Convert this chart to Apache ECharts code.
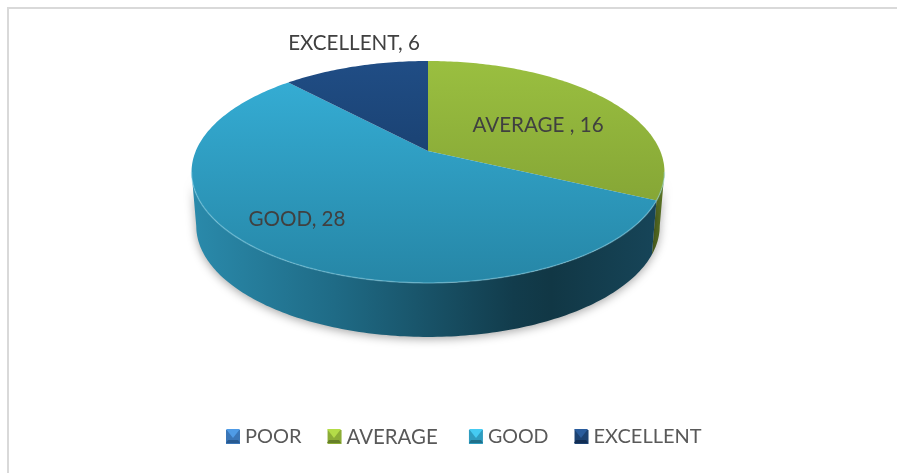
<!DOCTYPE html>
<html>
<head>
<meta charset="utf-8">
<script src="https://cdn.jsdelivr.net/npm/echarts@6/dist/echarts.min.js"></script>
<style>
html,body{margin:0;padding:0;background:#fff}
#main{width:897px;height:473px}
</style>
</head>
<body>
<div id="main"></div>
<script>
var categories = ["POOR", "AVERAGE ", "GOOD", "EXCELLENT"];
var values = [0, 16, 28, 6];

// colours per slice: top face gradient
var topColors = [
	["#3f7fc4", "#2e639b"],
	["#9abf40", "#7a9830"],
	["#36b0d8", "#2686a6"],
	["#204d85", "#12335a"]
];
// legend key: top bevel, side, bottom bevel
var keyColors = [
	["#4f9be6", "#3a76b8", "#285a90"],
	["#b4dc48", "#8cad36", "#667f28"],
	["#45cbf2", "#2f9dc0", "#20708a"],
	["#2a5c9c", "#1c4272", "#122e54"]
];
var keyX = [226, 327, 469, 574];
var keyY = 429, keySize = 14;
var legendFont = [20, 20.4, 19.6, 20];
var labelPos = [null, [538, 125], [297, 219], [354, 43]];

// perspective of the disc, fitted from the picture
var cx = 428, cy = 151, ax = 232.2, by = 107, persp = 0.189;
var depth = 54, baseShrink = 0.98;
var total = values.reduce(function(a, b){ return a + b; }, 0);
var frontFrom = Math.acos(-persp), frontTo = 2 * Math.PI - frontFrom;

var rimPoint = function(t){
	var u = Math.sin(t), v = Math.cos(t), w = 1 + persp * v;
	return [cx + ax * u / w, cy - by * v / w];
};
var basePoint = function(t){
	var p = rimPoint(t);
	return [cx + (p[0] - cx) * baseShrink, p[1] + depth];
};
var sample = function(fn, from, to){
	var pts = [], n = Math.max(2, Math.ceil((to - from) * 60));
	for (var i = 0; i <= n; i++) pts.push(fn(from + (to - from) * i / n));
	return pts;
};
var linear = function(x, y, x2, y2, stops){
	return {type: 'linear', x: x, y: y, x2: x2, y2: y2, global: true, colorStops: stops};
};

var wallFill = [
	null,
	linear(650, 0, 668, 0, [{offset: 0, color: '#4f6420'}, {offset: 1, color: '#5e7726'}]),
	linear(192, 0, 665, 0, [
		{offset: 0, color: '#2a8aab'},
		{offset: 0.3, color: '#1f6b86'},
		{offset: 0.68, color: '#123c4c'},
		{offset: 0.76, color: '#113745'},
		{offset: 1, color: '#17465a'}
	]),
	null
];

var makeRender = function(idx, start, end){
	return function(){
		if (end <= start) return {type: 'group', children: []};
		var kids = [];
		var top = sample(rimPoint, start, end);
		top.unshift([cx, cy]);
		kids.push({
			type: 'polygon', z2: 10,
			shape: {points: top},
			style: {fill: linear(0, 61, 0, 283, [
				{offset: 0, color: topColors[idx][0]},
				{offset: 1, color: topColors[idx][1]}
			])}
		});
		// wall only where the rim faces the viewer
		var a = Math.max(start, frontFrom), b = Math.min(end, frontTo);
		if (b > a) {
			var upper = sample(rimPoint, a, b);
			var lower = sample(basePoint, a, b).reverse();
			kids.push({
				type: 'polygon', z2: 1,
				shape: {points: upper.concat(lower)},
				style: {fill: wallFill[idx], shadowBlur: 10, shadowOffsetY: 2, shadowColor: 'rgba(0,0,0,0.35)'}
			});
			kids.push({
				type: 'polyline', z2: 11,
				shape: {points: upper},
				style: {fill: null, stroke: 'rgba(150,220,240,0.4)', lineWidth: 1.5}
			});
		}
		if (labelPos[idx]) {
			kids.push({
				type: 'text', z2: 20,
				x: labelPos[idx][0], y: labelPos[idx][1],
				style: {
					text: categories[idx] + ', ' + values[idx],
					fontFamily: 'Lato', fontSize: 20.6, fill: '#404040',
					align: 'center', verticalAlign: 'middle'
				}
			});
		}
		return {type: 'group', children: kids};
	};
};

var series = [], acc = 0;
for (var i = 0; i < categories.length; i++) {
	var s = acc / total * 2 * Math.PI;
	acc += values[i];
	var e = acc / total * 2 * Math.PI;
	series.push({
		type: 'custom',
		name: categories[i],
		coordinateSystem: 'none',
		silent: true,
		data: [values[i]],
		itemStyle: {color: keyColors[i][1]},
		renderItem: makeRender(i, s, e)
	});
}

// bevel on the legend keys, the legend only draws one flat colour
var bevels = [];
for (var k = 0; k < keyX.length; k++) {
	var x0 = keyX[k], x1 = x0 + keySize, y0 = keyY, y1 = keyY + keySize;
	var midX = x0 + keySize / 2, midY = y0 + keySize / 2;
	bevels.push({
		type: 'polygon', silent: true, z: 10,
		shape: {points: [[x0, y0], [x1, y0], [midX, midY + 2]]},
		style: {fill: keyColors[k][0]}
	});
	bevels.push({
		type: 'polygon', silent: true, z: 10,
		shape: {points: [[x0, y1], [x1, y1], [x1 - 2, y1 - 3], [x0 + 2, y1 - 3]]},
		style: {fill: keyColors[k][2]}
	});
}

var legendData = categories.map(function(name, n){
	return {name: name, textStyle: {fontSize: legendFont[n]}};
});

var chart = echarts.init(document.getElementById('main'));
chart.setOption({
	animation: false,
	backgroundColor: '#fff',
	graphic: [{
		type: 'rect', silent: true, z: -1,
		shape: {x: 8, y: 8, width: 900, height: 480},
		style: {fill: 'none', stroke: '#d9d9d9', lineWidth: 2}
	}].concat(bevels),
	legend: {
		show: true,
		data: legendData,
		left: 221, top: 422,
		itemWidth: keySize, itemHeight: keySize, itemGap: 26,
		icon: 'rect',
		textStyle: {fontFamily: 'Lato', fontSize: 20, color: '#595959'}
	},
	series: series
});
</script>
</body>
</html>
